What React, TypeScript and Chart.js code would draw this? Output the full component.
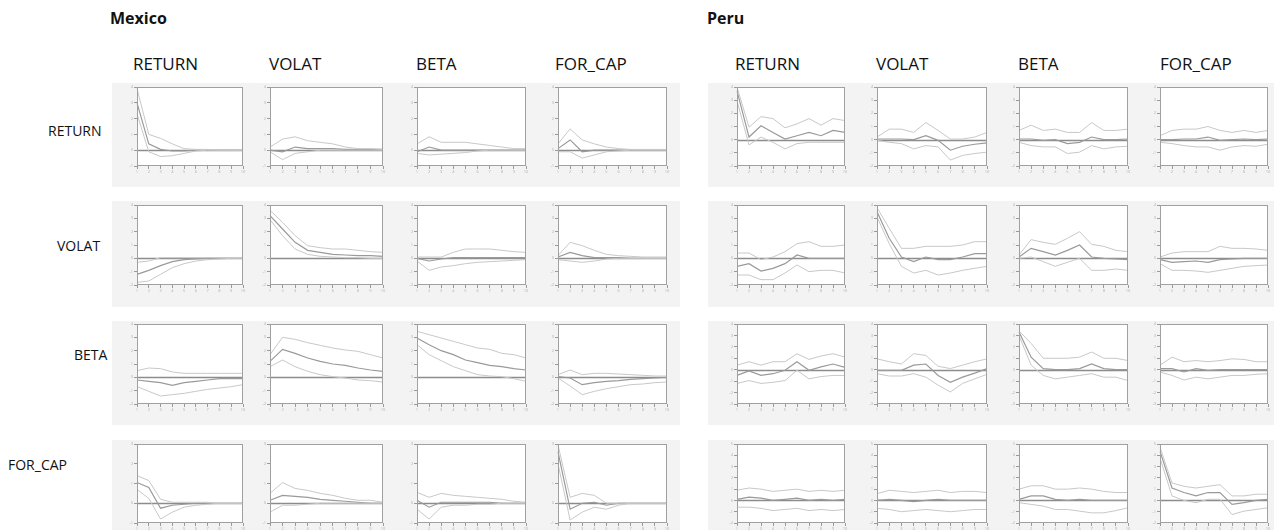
import React, { useEffect, useRef } from "react";
import { Chart, registerables } from "chart.js";

Chart.register(...registerables);

// Forecast horizon and variable names
const PERIODS = ["1", "2", "3", "4", "5", "6", "7", "8", "9", "10"];
const VARIABLES = ["RETURN", "VOLAT", "BETA", "FOR_CAP"];
const COUNTRIES = ["Mexico", "Peru"];

// Vertical ranges of each response row
const MEXICO_Y_MIN = [-1, -2, -2, -1];
const MEXICO_Y_MAX = [4, 4, 4, 3];
const PERU_Y_MIN = [-2, -2, -3, -2];
const PERU_Y_MAX = [4, 4, 4, 5];

// ---------- Mexico: response of RETURN ----------
const mxRetRetUp = [3.9, 1.0, 0.75, 0.4, 0.1, 0.05, 0.05, 0, 0, 0];
const mxRetRetMean = [3.0, 0.4, 0.05, -0.05, -0.05, 0, 0, 0, 0, 0];
const mxRetRetLo = [2.3, -0.1, -0.4, -0.35, -0.2, -0.05, 0, 0, 0, 0];
const mxRetVolUp = [0.2, 0.7, 0.85, 0.6, 0.5, 0.4, 0.2, 0.1, 0.1, 0.05];
const mxRetVolMean = [0, -0.1, 0.2, 0.1, 0.1, 0.1, 0.05, 0.05, 0.05, 0.05];
const mxRetVolLo = [-0.1, -0.6, -0.2, -0.1, 0, 0, 0, 0, 0, 0];
const mxRetBetaUp = [0.4, 0.85, 0.5, 0.5, 0.5, 0.4, 0.3, 0.2, 0.1, 0.1];
const mxRetBetaMean = [-0.1, 0.2, 0, 0, 0, 0, 0, 0, 0, 0];
const mxRetBetaLo = [-0.2, -0.3, -0.25, -0.2, -0.15, -0.05, 0, 0, 0, 0];
const mxRetCapUp = [0.4, 1.35, 0.65, 0.4, 0.2, 0.1, 0.05, 0.05, 0.05, 0.05];
const mxRetCapMean = [0.1, 0.65, -0.1, 0, 0, 0, 0, 0, 0, 0];
const mxRetCapLo = [-0.1, -0.1, -0.5, -0.3, -0.1, -0.05, 0, 0, 0, 0];

// ---------- Mexico: response of VOLAT ----------
const mxVolRetUp = [-0.3, -0.2, 0.05, 0.05, 0.05, 0.05, 0.05, 0.05, 0.05, 0.05];
const mxVolRetMean = [-1.2, -0.9, -0.55, -0.25, -0.1, -0.05, 0, 0, 0, 0];
const mxVolRetLo = [-1.8, -1.7, -1.2, -0.7, -0.4, -0.2, -0.1, -0.05, 0, 0];
const mxVolVolUp = [3.6, 2.7, 1.7, 0.95, 0.8, 0.7, 0.7, 0.6, 0.5, 0.45];
const mxVolVolMean = [3.2, 2.2, 1.2, 0.6, 0.45, 0.3, 0.25, 0.2, 0.2, 0.15];
const mxVolVolLo = [2.9, 1.7, 0.7, 0.3, 0.15, 0.1, 0.05, 0.05, 0, 0];
const mxVolBetaUp = [0.1, 0.1, 0.1, 0.45, 0.7, 0.7, 0.7, 0.6, 0.5, 0.45];
const mxVolBetaMean = [0, -0.2, -0.05, 0.05, 0.05, 0.05, 0.05, 0.05, 0.05, 0.05];
const mxVolBetaLo = [-0.2, -0.9, -0.65, -0.55, -0.4, -0.3, -0.25, -0.2, -0.15, -0.1];
const mxVolCapUp = [0.2, 1.2, 0.95, 0.6, 0.3, 0.2, 0.15, 0.1, 0.1, 0.1];
const mxVolCapMean = [0.1, 0.45, 0.2, 0.05, 0.05, 0.05, 0, 0, 0, 0];
const mxVolCapLo = [-0.1, -0.2, -0.3, -0.2, -0.05, 0, 0, 0, 0, 0];

// ---------- Mexico: response of BETA ----------
const mxBetaRetUp = [0.5, 0.7, 0.65, 0.4, 0.3, 0.3, 0.3, 0.3, 0.3, 0.3];
const mxBetaRetMean = [-0.2, -0.3, -0.4, -0.6, -0.4, -0.3, -0.2, -0.1, -0.1, -0.1];
const mxBetaRetLo = [-0.7, -1.05, -1.4, -1.3, -1.2, -1.05, -0.9, -0.8, -0.7, -0.55];
const mxBetaVolUp = [1.7, 3.0, 2.85, 2.6, 2.4, 2.2, 2.05, 1.95, 1.7, 1.45];
const mxBetaVolMean = [1.2, 2.1, 1.8, 1.45, 1.2, 1.0, 0.9, 0.7, 0.55, 0.45];
const mxBetaVolLo = [0.8, 1.3, 0.8, 0.45, 0.2, 0.05, -0.05, -0.2, -0.25, -0.35];
const mxBetaBetaUp = [3.45, 3.2, 2.95, 2.7, 2.45, 2.2, 2.1, 1.8, 1.7, 1.45];
const mxBetaBetaMean = [2.95, 2.45, 2.0, 1.7, 1.3, 1.1, 0.9, 0.8, 0.65, 0.55];
const mxBetaBetaLo = [2.45, 1.7, 1.25, 0.8, 0.5, 0.2, 0.1, 0.05, -0.1, -0.3];
const mxBetaCapUp = [0.2, 0.55, 0.2, 0.3, 0.3, 0.25, 0.2, 0.15, 0.1, 0.1];
const mxBetaCapMean = [0.05, -0.05, -0.55, -0.4, -0.3, -0.25, -0.15, -0.1, -0.05, 0];
const mxBetaCapLo = [-0.05, -0.65, -1.3, -1.05, -0.85, -0.7, -0.55, -0.5, -0.4, -0.35];

// ---------- Mexico: response of FOR_CAP ----------
const mxCapRetUp = [1.4, 1.15, 0.2, 0.05, 0.05, 0.05, 0.05, 0, 0, 0];
const mxCapRetMean = [1.05, 0.8, -0.25, -0.1, -0.05, 0, 0, 0, 0, 0];
const mxCapRetLo = [0.7, 0.25, -0.8, -0.45, -0.2, -0.1, -0.05, 0, 0, 0];
const mxCapVolUp = [0.5, 1.05, 0.75, 0.65, 0.5, 0.4, 0.25, 0.15, 0.15, 0.05];
const mxCapVolMean = [0.15, 0.4, 0.35, 0.3, 0.2, 0.15, 0.1, 0.05, 0, 0];
const mxCapVolLo = [-0.45, -0.1, -0.1, -0.05, 0, 0, 0, 0, 0, 0];
const mxCapBetaUp = [0.55, 0.3, 0.5, 0.4, 0.35, 0.3, 0.25, 0.2, 0.1, 0.05];
const mxCapBetaMean = [0.15, -0.2, 0.05, 0.05, 0.05, 0.05, 0.05, 0, 0, 0];
const mxCapBetaLo = [-0.3, -0.8, -0.2, -0.1, -0.1, -0.05, -0.05, 0, 0, 0];
const mxCapCapUp = [2.95, 0.3, 0.5, 0.4, 0, 0, 0, 0, 0, 0];
const mxCapCapMean = [2.6, -0.3, 0, 0.05, -0.1, 0, 0, 0, 0, 0];
const mxCapCapLo = [2.0, -0.85, -0.45, -0.2, -0.3, -0.1, 0, 0, 0, 0];

// ---------- Peru: response of RETURN ----------
const peRetRetUp = [4.0, 0.95, 1.75, 1.6, 0.9, 1.2, 1.6, 1.1, 1.6, 1.45];
const peRetRetMean = [3.7, 0.2, 1.05, 0.55, 0.05, 0.3, 0.55, 0.3, 0.7, 0.55];
const peRetRetLo = [2.95, -0.4, 0.2, -0.2, -0.7, -0.3, -0.2, -0.2, -0.2, -0.2];
const peRetVolUp = [0.2, 0.8, 0.8, 0.55, 1.3, 0.7, 0.05, 0.05, 0.2, 0.55];
const peRetVolMean = [0.05, 0.05, 0.05, 0, 0.3, -0.05, -0.8, -0.5, -0.35, -0.25];
const peRetVolLo = [-0.05, -0.2, -0.3, -0.7, -0.45, -0.55, -1.55, -1.2, -1.05, -0.95];
const peRetBetaUp = [0.7, 1.1, 0.7, 0.8, 0.55, 0.55, 1.3, 0.7, 0.7, 0.8];
const peRetBetaMean = [0.05, 0.05, -0.05, 0, -0.3, -0.2, 0.2, 0, 0, 0.05];
const peRetBetaLo = [-0.2, -0.45, -0.55, -0.55, -1.05, -0.95, -0.45, -0.7, -0.55, -0.5];
const peRetCapUp = [0.3, 0.7, 0.8, 0.8, 1.0, 0.7, 0.55, 0.7, 0.55, 0.7];
const peRetCapMean = [0, 0, 0.05, 0.05, 0.2, -0.05, 0, 0.05, 0, 0.05];
const peRetCapLo = [-0.2, -0.3, -0.45, -0.55, -0.55, -0.8, -0.55, -0.45, -0.5, -0.35];

// ---------- Peru: response of VOLAT ----------
const peVolRetUp = [0.4, 0.4, -0.1, 0.1, 0.5, 1.1, 1.25, 0.9, 0.9, 1.0];
const peVolRetMean = [-0.6, -0.4, -0.95, -0.75, -0.4, 0.25, 0, 0, 0, 0];
const peVolRetLo = [-1.25, -1.25, -1.6, -1.6, -1.1, -0.5, -1.0, -0.9, -0.9, -1.1];
const peVolVolUp = [3.8, 2.25, 0.75, 0.75, 0.9, 0.9, 0.9, 1.0, 1.25, 1.25];
const peVolVolMean = [3.5, 1.5, 0.1, -0.25, 0.1, -0.1, -0.1, 0.1, 0.35, 0.35];
const peVolVolLo = [3.1, 1.1, -0.6, -1.1, -0.9, -1.25, -1.1, -0.9, -0.75, -0.6];
const peVolBetaUp = [0.25, 1.4, 1.2, 1.05, 1.5, 2.0, 1.05, 0.9, 0.6, 0.5];
const peVolBetaMean = [0.1, 0.75, 0.5, 0.25, 0.6, 1.0, 0.1, 0, -0.05, -0.1];
const peVolBetaLo = [0, 0.1, -0.25, -0.6, -0.3, 0, -0.9, -0.9, -0.8, -0.9];
const peVolCapUp = [0.1, 0.4, 0.5, 0.5, 0.5, 0.9, 0.75, 0.75, 0.7, 0.6];
const peVolCapMean = [-0.1, -0.3, -0.25, -0.2, -0.3, -0.1, -0.05, 0, 0, 0];
const peVolCapLo = [-0.4, -0.9, -0.9, -0.95, -1.05, -0.9, -0.75, -0.6, -0.55, -0.5];

// ---------- Peru: response of BETA ----------
const peBetaRetUp = [0.4, 0.7, 0.4, 0.7, 0.7, 1.4, 0.9, 1.2, 1.4, 1.1];
const peBetaRetMean = [-0.5, -0.1, -0.5, -0.35, -0.05, 0.7, -0.05, 0.25, 0.5, 0.2];
const peBetaRetLo = [-1.2, -0.95, -1.2, -1.1, -0.95, -0.05, -0.8, -0.6, -0.5, -0.5];
const peBetaVolUp = [0.95, 0.7, 0.5, 1.4, 1.25, 0.3, 0.1, 0.4, 0.7, 0.95];
const peBetaVolMean = [-0.05, -0.05, -0.05, 0.4, 0.5, -0.5, -1.1, -0.65, -0.3, 0.1];
const peBetaVolLo = [-0.35, -0.55, -0.55, -0.35, -0.65, -1.35, -1.95, -1.2, -0.8, -0.4];
const peBetaBetaUp = [3.4, 2.3, 1.0, 1.0, 1.0, 1.1, 1.55, 1.0, 1.0, 0.8];
const peBetaBetaMean = [3.3, 1.1, 0.1, 0, 0, 0.1, 0.5, 0.1, 0, 0];
const peBetaBetaLo = [3.0, 0.4, -0.5, -0.8, -0.65, -0.5, -0.35, -0.65, -0.65, -0.95];
const peBetaCapUp = [0.4, 1.1, 0.7, 0.8, 0.7, 0.8, 0.95, 0.9, 0.7, 0.7];
const peBetaCapMean = [0.1, 0.1, -0.2, 0.1, -0.05, 0, 0, 0, 0, 0];
const peBetaCapLo = [-0.2, -0.5, -0.9, -0.65, -0.8, -0.65, -0.5, -0.5, -0.4, -0.35];

// ---------- Peru: response of FOR_CAP ----------
const peCapRetUp = [0.9, 1.1, 1.0, 0.8, 0.9, 1.0, 0.8, 0.9, 0.8, 0.9];
const peCapRetMean = [0.1, 0.3, 0.2, 0, 0.1, 0.2, 0, 0.1, 0, 0.1];
const peCapRetLo = [-0.6, -0.6, -0.7, -0.9, -0.8, -0.7, -0.9, -0.8, -0.9, -0.8];
const peCapVolUp = [0.6, 0.9, 0.8, 0.7, 0.8, 0.9, 0.7, 0.8, 0.8, 0.7];
const peCapVolMean = [0, 0.1, 0, -0.1, 0, 0.1, 0, 0, 0, 0];
const peCapVolLo = [-0.7, -0.8, -1.0, -0.9, -0.8, -0.9, -1.0, -0.9, -0.8, -0.8];
const peCapBetaUp = [1.0, 1.3, 1.3, 1.0, 1.0, 1.1, 1.0, 0.8, 0.7, 0.7];
const peCapBetaMean = [0.1, 0.4, 0.4, 0.1, 0, 0.1, 0, 0, 0, 0];
const peCapBetaLo = [-0.2, -0.35, -0.5, -0.8, -0.8, -0.95, -1.1, -1.1, -0.9, -0.65];
const peCapCapUp = [4.7, 1.55, 1.25, 1.1, 1.25, 1.4, 0.4, 0.4, 0.55, 0.55];
const peCapCapMean = [4.35, 1.1, 0.7, 0.4, 0.7, 0.7, -0.35, -0.2, 0, 0.1];
const peCapCapLo = [3.75, 0.4, 0, -0.2, 0.1, 0.1, -1.25, -0.95, -0.8, -0.65];

type Band = { upper: number[]; mean: number[]; lower: number[] };
const band = (upper: number[], mean: number[], lower: number[]): Band => ({ upper, mean, lower });

// rows = responding variable, columns = shocked variable
const MEXICO_GRID: Band[][] = [
  [band(mxRetRetUp, mxRetRetMean, mxRetRetLo), band(mxRetVolUp, mxRetVolMean, mxRetVolLo), band(mxRetBetaUp, mxRetBetaMean, mxRetBetaLo), band(mxRetCapUp, mxRetCapMean, mxRetCapLo)],
  [band(mxVolRetUp, mxVolRetMean, mxVolRetLo), band(mxVolVolUp, mxVolVolMean, mxVolVolLo), band(mxVolBetaUp, mxVolBetaMean, mxVolBetaLo), band(mxVolCapUp, mxVolCapMean, mxVolCapLo)],
  [band(mxBetaRetUp, mxBetaRetMean, mxBetaRetLo), band(mxBetaVolUp, mxBetaVolMean, mxBetaVolLo), band(mxBetaBetaUp, mxBetaBetaMean, mxBetaBetaLo), band(mxBetaCapUp, mxBetaCapMean, mxBetaCapLo)],
  [band(mxCapRetUp, mxCapRetMean, mxCapRetLo), band(mxCapVolUp, mxCapVolMean, mxCapVolLo), band(mxCapBetaUp, mxCapBetaMean, mxCapBetaLo), band(mxCapCapUp, mxCapCapMean, mxCapCapLo)],
];
const PERU_GRID: Band[][] = [
  [band(peRetRetUp, peRetRetMean, peRetRetLo), band(peRetVolUp, peRetVolMean, peRetVolLo), band(peRetBetaUp, peRetBetaMean, peRetBetaLo), band(peRetCapUp, peRetCapMean, peRetCapLo)],
  [band(peVolRetUp, peVolRetMean, peVolRetLo), band(peVolVolUp, peVolVolMean, peVolVolLo), band(peVolBetaUp, peVolBetaMean, peVolBetaLo), band(peVolCapUp, peVolCapMean, peVolCapLo)],
  [band(peBetaRetUp, peBetaRetMean, peBetaRetLo), band(peBetaVolUp, peBetaVolMean, peBetaVolLo), band(peBetaBetaUp, peBetaBetaMean, peBetaBetaLo), band(peBetaCapUp, peBetaCapMean, peBetaCapLo)],
  [band(peCapRetUp, peCapRetMean, peCapRetLo), band(peCapVolUp, peCapVolMean, peCapVolLo), band(peCapBetaUp, peCapBetaMean, peCapBetaLo), band(peCapCapUp, peCapCapMean, peCapCapLo)],
];

// ---------- layout ----------
const FONT = "'Open Sans', 'Noto Sans', sans-serif";
const PANEL_BG = "#f3f3f3";
const ROW_FRAME_TOP = [87, 205, 324, 444];
const ROW_FRAME_BOTTOM = [166, 285, 404, 523];
const ROW_BAND_TOP = [83, 201, 321, 440];
const ROW_BAND_BOTTOM = [187, 307, 425, 530];
const MEXICO_COL_LEFT = [137, 270, 417, 558];
const MEXICO_COL_RIGHT = [243, 383, 526, 667];
const PERU_COL_LEFT = [737, 877, 1019, 1160];
const PERU_COL_RIGHT = [845, 987, 1128, 1268];
const MEXICO_BAND = [112, 680];
const PERU_BAND = [708, 1274];
const MEXICO_TITLE_X = 110;
const PERU_TITLE_X = 707;
const MEXICO_HEADER_X = [133, 269, 416, 555];
const PERU_HEADER_X = [735, 876, 1018, 1160];
const ROW_LABEL_X = [48, 57, 74, 8];
const ROW_LABEL_Y = [124, 239, 348, 458];

const AXIS_W = 14;
const AXIS_H = 12;
const PAD_TOP = 4;
const PAD_RIGHT = 4;

const framePlugin = {
  id: "irfFrame",
  beforeDatasetsDraw(chart: any) {
    const { ctx, chartArea } = chart;
    ctx.save();
    ctx.fillStyle = "#ffffff";
    ctx.fillRect(chartArea.left, chartArea.top, chartArea.right - chartArea.left, chartArea.bottom - chartArea.top);
    // zero reference line
    const y0 = Math.round(chart.scales.y.getPixelForValue(0)) + 0.5;
    ctx.strokeStyle = "#8c8c8c";
    ctx.lineWidth = 1.6;
    ctx.beginPath();
    ctx.moveTo(chartArea.left, y0);
    ctx.lineTo(chartArea.right, y0);
    ctx.stroke();
    ctx.restore();
  },
  afterDraw(chart: any) {
    const { ctx, chartArea } = chart;
    ctx.save();
    ctx.strokeStyle = "#a0a0a0";
    ctx.lineWidth = 1;
    ctx.strokeRect(
      Math.round(chartArea.left) + 0.5,
      Math.round(chartArea.top) + 0.5,
      Math.round(chartArea.right - chartArea.left) - 1,
      Math.round(chartArea.bottom - chartArea.top) - 1
    );
    ctx.restore();
  },
};

function MiniIrf(props: { data: Band; yMin: number; yMax: number; left: number; top: number; width: number; height: number }) {
  const ref = useRef<HTMLCanvasElement | null>(null);
  const { data, yMin, yMax, left, top, width, height } = props;
  const cw = width + AXIS_W + PAD_RIGHT;
  const ch = height + AXIS_H + PAD_TOP;

  useEffect(() => {
    if (!ref.current) return;
    const line = (values: number[], color: string, w: number) => ({
      data: values,
      borderColor: color,
      borderWidth: w,
      pointRadius: 0,
      tension: 0,
      fill: false,
    });
    const chart = new Chart(ref.current, {
      type: "line",
      data: {
        labels: PERIODS,
        datasets: [
          line(data.upper, "#c8c8c8", 1),
          line(data.lower, "#c8c8c8", 1),
          line(data.mean, "#9a9a9a", 1.2),
        ],
      },
      options: {
        animation: false,
        responsive: false,
        maintainAspectRatio: false,
        devicePixelRatio: 1,
        layout: { padding: { left: 0, top: PAD_TOP, right: PAD_RIGHT, bottom: 0 } },
        plugins: { legend: { display: false }, tooltip: { enabled: false }, title: { display: false } },
        scales: {
          x: {
            type: "category",
            offset: false,
            border: { display: false },
            grid: { drawOnChartArea: false, drawTicks: true, tickLength: 3, tickColor: "#9a9a9a", tickWidth: 1 },
            ticks: { font: { size: 4, family: FONT }, color: "#b0b0b0", padding: 0, maxRotation: 0, autoSkip: false },
            afterFit: (s: any) => { s.height = AXIS_H; },
          },
          y: {
            min: yMin,
            max: yMax,
            border: { display: false },
            grid: { drawOnChartArea: false, drawTicks: true, tickLength: 3, tickColor: "#9a9a9a", tickWidth: 1 },
            ticks: { stepSize: 1, font: { size: 4, family: FONT }, color: "#b0b0b0", padding: 1 },
            afterFit: (s: any) => { s.width = AXIS_W; },
          },
        },
      },
      plugins: [framePlugin],
    } as any);
    return () => chart.destroy();
  }, [data, yMin, yMax]);

  return (
    <canvas
      ref={ref}
      width={cw}
      height={ch}
      style={{ position: "absolute", left: left - AXIS_W, top: top - PAD_TOP, width: cw, height: ch }}
    />
  );
}

function CountryBlock(props: {
  name: string; titleX: number; grid: Band[][]; yMin: number[]; yMax: number[];
  colLeft: number[]; colRight: number[]; bandX: number[]; headerX: number[];
}) {
  const { name, titleX, grid, yMin, yMax, colLeft, colRight, bandX, headerX } = props;
  return (
    <>
      <div style={{ position: "absolute", left: titleX, top: 10, font: `bold 16px ${FONT}`, lineHeight: "16px", color: "#111" }}>{name}</div>
      {VARIABLES.map((v, c) => (
        <div key={v} style={{ position: "absolute", left: headerX[c], top: 55, font: `17px ${FONT}`, lineHeight: "17px", color: "#111" }}>{v}</div>
      ))}
      {ROW_BAND_TOP.map((t, r) => (
        <div key={"bg" + r} style={{ position: "absolute", left: bandX[0], top: t, width: bandX[1] - bandX[0], height: ROW_BAND_BOTTOM[r] - t, background: PANEL_BG }} />
      ))}
      {grid.map((row, r) =>
        row.map((b, c) => (
          <MiniIrf
            key={name + r + "-" + c}
            data={b}
            yMin={yMin[r]}
            yMax={yMax[r]}
            left={colLeft[c]}
            top={ROW_FRAME_TOP[r]}
            width={colRight[c] - colLeft[c]}
            height={ROW_FRAME_BOTTOM[r] - ROW_FRAME_TOP[r]}
          />
        ))
      )}
    </>
  );
}

export default function App() {
  return (
    <div style={{ position: "absolute", left: 0, top: 0, width: 1274, height: 530, background: "#ffffff", overflow: "hidden" }}>
      <CountryBlock name={COUNTRIES[0]} titleX={MEXICO_TITLE_X} grid={MEXICO_GRID} yMin={MEXICO_Y_MIN} yMax={MEXICO_Y_MAX}
        colLeft={MEXICO_COL_LEFT} colRight={MEXICO_COL_RIGHT} bandX={MEXICO_BAND} headerX={MEXICO_HEADER_X} />
      <CountryBlock name={COUNTRIES[1]} titleX={PERU_TITLE_X} grid={PERU_GRID} yMin={PERU_Y_MIN} yMax={PERU_Y_MAX}
        colLeft={PERU_COL_LEFT} colRight={PERU_COL_RIGHT} bandX={PERU_BAND} headerX={PERU_HEADER_X} />
      {VARIABLES.map((v, r) => (
        <div key={"row" + v} style={{ position: "absolute", left: ROW_LABEL_X[r], top: ROW_LABEL_Y[r], font: `14px ${FONT}`, lineHeight: "14px", color: "#111" }}>{v}</div>
      ))}
    </div>
  );
}
